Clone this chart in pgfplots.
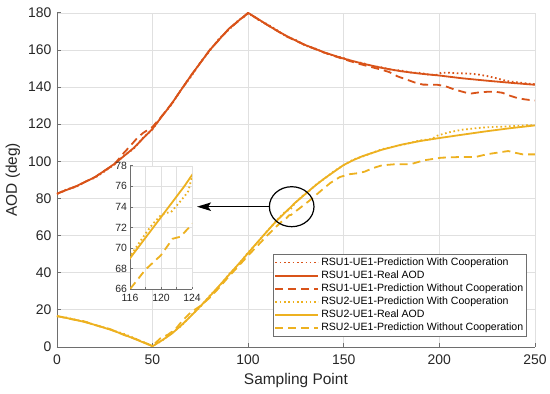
\documentclass[border=0pt]{standalone}
\usepackage{fontspec}
\setmainfont{Liberation Sans}
\usepackage{pgfplots}
\usepackage{pgfplotstable}
\pgfplotsset{compat=1.18}
\usetikzlibrary{arrows.meta}
\definecolor{corange}{RGB}{217,83,25}
\definecolor{cyellow}{RGB}{237,177,32}
\definecolor{axgray}{RGB}{110,110,110}

\pgfplotstableread{
x y
0 82.5
10 86.5
20 91.5
30 98.5
40 107
50 117.5
60 131
70 146
80 160
90 171.5
100 180
105 176.8
110 173.5
115 170.4
120 167.6
125 165
130 162.6
140 158.6
150 155.3
160 152.6
170 150.3
180 148.5
190 147.2
200 146.2
212 144.7
225 143.4
237 142.3
250 141.2
}\rareal

\pgfplotstableread{
x y
0 82.3
5 84.8
10 86.2
15 89
20 91.2
25 94.6
30 98.2
35 103
40 106.6
45 112.5
50 117.2
55 124.5
60 130.6
65 138.7
70 145.4
75 153.2
80 159.6
85 166.3
90 171
95 176
98 178
100 179.6
103 178
106 175.8
110 173.9
115 170.7
120 167.2
125 165.3
130 162.3
135 160.8
140 158.4
145 156.8
150 155.6
155 153.7
160 152.9
165 151.2
170 150.6
175 149.2
180 148.9
185 147.8
190 147.6
195 146.6
199 146.6
201 147.7
205 147.7
210 147.4
215 147.3
220 146.8
225 145.9
230 144.7
235 143.3
240 142.6
245 142
250 141.5
}\racoop

\pgfplotstableread{
x y
0 82.5
10 86.5
20 91.5
30 98.3
35 104.5
38 107.8
42 112.5
45 115.2
50 118.5
55 124.5
60 131
70 146
80 160
90 171.3
100 179.8
110 173.5
120 167.3
130 162.5
140 158.5
150 155
158 152.5
165 150.6
170 149.3
174 148
178 145.8
183 144
187 142.5
191.5 141.3
199 141.2
203 140.5
207 139
212 137.5
216 136.4
220 137
224.7 137.4
229 137.5
233 136.9
237 135.3
241 134
245 133.3
250 132.7
}\ranocoop

\pgfplotstableread{
x y
0 16.6
7 15.1
14 13.5
21 11.5
28 9.2
35 6.6
42 3.7
50 0.3
55 3.5
60 7
65 11.5
70 16.5
75 21.8
80 27.3
85 33
90 38.8
95 44.6
100 50.5
105 56.5
110 62.3
114 66.9
116 69
117 70
118 71
119 72
120 73
121 74
122 75
123 76
124 77.1
128 80.6
132 84.2
136 87.6
140 90.8
145 94.4
150 98
155 100.6
160 102.8
170 106.2
180 108.9
190 110.9
200 112.5
212 114.3
225 116.2
237 117.8
250 119.3
}\rbreal

\pgfplotstableread{
x y
0 16.4
5 15.8
10 14.5
15 13.5
20 11.7
25 10.3
30 8.6
35 7
40 4.9
45 2.6
50 0.4
55 3.3
60 7.4
65 11.2
70 16.8
75 21.5
80 27.6
85 32.6
90 39.1
95 44.3
100 50.8
105 56.2
110 62.4
114 67
116 69.2
117 70.3
118 71.4
119 72.4
120 73.2
120.6 73.4
121.3 73.5
122 74.1
123 75
123.5 75.5
124 76.9
128 80.9
132 84
136 87.9
140 90.6
145 94.7
150 97.9
155 100.9
160 102.6
170 106.5
180 108.7
190 111.2
196 112
199 113.8
205 115.6
212 117
220 117.9
228 118.5
235 118.7
242 119.2
250 119.5
}\rbcoop

\pgfplotstableread{
x y
0 16.6
7 15
14 13.8
21 11.4
28 9.5
35 6.4
42 3.9
50 0.5
54 4.5
58 6.5
62 9.5
66 14.5
70 18.5
75 22
80 26.5
85 32
90 38
95 43.5
100 49.2
105 54.5
110 60
114 64
116 66
118 67.9
120 69.3
121.5 70.9
122.5 71.1
124 72.3
128 75.5
132 78.7
138 84
143 88.3
148 91.5
153 93
157 93.5
161 94.4
165 96.2
170 97.8
177 98.4
185 98.4
192 100.5
201 101.9
211 102.3
219 102.3
223 103.3
227 104.1
236 105.5
240 104.5
243.7 103.7
250 103.7
}\rbnocoop

\tikzset{
  dotsty/.style={line width=1.8bp, dash pattern=on 1.6bp off 2.7bp},
  solsty/.style={line width=1.8bp},
  dashsty/.style={line width=1.8bp, dash pattern=on 8bp off 5bp},
}

\begin{document}
\begin{tikzpicture}
\begin{axis}[
  at={(0,0)}, anchor=south west,
  width=478bp, height=334bp, scale only axis,
  xmin=0, xmax=250, ymin=0, ymax=180,
  xtick={0,50,...,250}, ytick={0,20,...,180},
  grid=major, major grid style={draw=black!12, line width=0.5bp},
  axis x line*=bottom, axis y line*=left,
  axis line style={-, draw=axgray, line width=0.6bp},
  tick style={draw=axgray, line width=0.6bp},
  tick align=inside, major tick length=4bp,
  /pgf/number format/assume math mode=true,
  tick label style={font=\fontsize{14}{16}\selectfont, text=black!85},
  yticklabel style={xshift=-2bp},
  xticklabel style={yshift=-4bp},
  xlabel={Sampling Point}, ylabel={AOD (deg)},
  label style={font=\fontsize{15.5}{18}\selectfont, text=black!85},
  xlabel style={at={([yshift=-33.5bp]axis description cs:0.5,0)}, anchor=center},
  ylabel style={at={([xshift=-44bp]axis description cs:0,0.5)}, anchor=center},
  legend style={at={(0.9835,0.032)}, anchor=south east, draw=axgray, fill=white,
    font=\fontsize{10.6}{12}\selectfont, inner sep=1.5bp, row sep=-0.1bp,
    cells={anchor=west}, line width=0.6bp},
  legend image code/.code={\draw[#1] (0bp,0bp) -- (43bp,0bp);},
]
\addplot[corange, dotsty] table {\racoop};
\addlegendentry{RSU1-UE1-Prediction With Cooperation}
\addplot[corange, solsty] table {\rareal};
\addlegendentry{RSU1-UE1-Real AOD}
\addplot[corange, dashsty] table {\ranocoop};
\addlegendentry{RSU1-UE1-Prediction Without Cooperation}
\addplot[cyellow, dotsty] table {\rbcoop};
\addlegendentry{RSU2-UE1-Prediction With Cooperation}
\addplot[cyellow, solsty] table {\rbreal};
\addlegendentry{RSU2-UE1-Real AOD}
\addplot[cyellow, dashsty] table {\rbnocoop};
\addlegendentry{RSU2-UE1-Prediction Without Cooperation}
\draw[black, line width=1.2bp] (axis cs:122.8,75.5) ellipse [x radius=22.3bp, y radius=20bp];
\draw[black, line width=1.2bp, -{Stealth[length=14bp, width=8.5bp, inset=3bp]}] (axis cs:111.2,75.5) -- (axis cs:73.3,75.5);
\end{axis}

\begin{axis}[
  at={(73.1bp,57.7bp)}, anchor=south west,
  width=62bp, height=123.3bp, scale only axis,
  xmin=116, xmax=124, ymin=66, ymax=78,
  xtick={116,120,124}, minor xtick={118,122}, ytick={66,68,...,78},
  grid=both, major grid style={draw=black!12, line width=0.5bp},
  minor grid style={draw=black!12, line width=0.5bp},
  axis background/.style={fill=white},
  axis x line*=bottom, axis y line*=left,
  axis line style={-, draw=axgray, line width=0.6bp},
  tick style={draw=axgray, line width=0.6bp},
  tick align=inside, major tick length=2.5bp, minor tick length=2.5bp,
  /pgf/number format/assume math mode=true,
  tick label style={font=\fontsize{10.5}{12}\selectfont, text=black!85},
  yticklabel style={xshift=0.5bp},
  xticklabel style={yshift=-1.5bp},
]
\addplot[cyellow, dotsty] table {\rbcoop};
\addplot[cyellow, solsty] table {\rbreal};
\addplot[cyellow, dashsty] table {\rbnocoop};
\end{axis}
\pgfresetboundingbox
\path[use as bounding box] (-56.9bp,-46.3bp) rectangle (493.1bp,346.8bp);
\end{tikzpicture}
\end{document}
